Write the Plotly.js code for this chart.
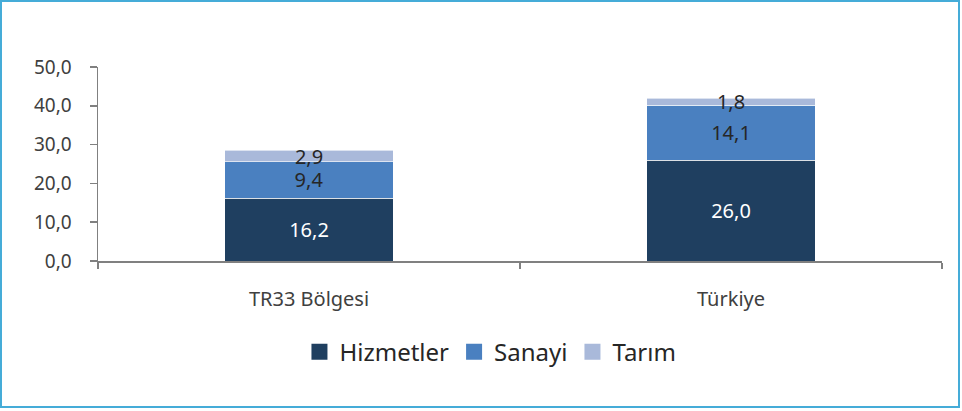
<!DOCTYPE html>
<html>
<head>
<meta charset="utf-8">
<script src="https://cdn.plot.ly/plotly-3.0.1.min.js"></script>
<style>
html,body{margin:0;padding:0;background:#fff;}
#wrap{position:relative;width:962px;height:411px;}
#plot{position:absolute;left:0;top:0;width:962px;height:411px;}
#frame{position:absolute;left:0;top:0;width:956px;height:404px;border:2px solid #45ACD8;pointer-events:none;}
</style>
</head>
<body>
<div id="wrap"><div id="plot"></div><div id="frame"></div></div>
<script>
const categories = ["TR33 Bölgesi", "Türkiye"];
const seriesNames = ["Hizmetler", "Sanayi", "Tarım"];
const hizmetler = [16.2, 26.0];
const sanayi = [9.4, 14.1];
const tarim = [2.9, 1.8];

const font = "'Noto Sans', 'Open Sans', sans-serif";
const colors = ['#1F3F60', '#4A80C0', '#A9B9DA'];
const txtColors = ['#ffffff', '#262626', '#262626'];
const values = [hizmetler, sanayi, tarim];

const data = [];
values.forEach((vals, i) => {
  data.push({
    type:'bar', name:seriesNames[i], x:categories, y:vals,
    marker:{color:colors[i], line:{color:'#ffffff', width:0.6}},
    texttemplate:'%{y:.1f}', textposition:'inside', insidetextanchor:'middle',
    constraintext:'none', cliponaxis:false,
    textfont:{family:font, size:20, color:txtColors[i]},
    hoverinfo:'none', showlegend:false
  });
});
// legend entries with larger square swatches
values.forEach((vals, i) => {
  data.push({
    type:'scatter', mode:'markers', name:seriesNames[i], x:[null], y:[null],
    marker:{symbol:'square', size:16, color:colors[i]}, hoverinfo:'none', showlegend:true
  });
});

const layout = {
  width:962, height:411,
  margin:{l:98, r:20, t:67, b:150},
  barmode:'stack', bargap:0.6,
  separators:',.',
  paper_bgcolor:'#ffffff', plot_bgcolor:'#ffffff',
  showlegend:true,
  font:{family:font, color:'#404040', size:19},
  xaxis:{
    type:'category', showline:true, linecolor:'#808080', linewidth:1.5,
    ticks:'outside', tickson:'boundaries', ticklen:6, tickcolor:'#808080', tickwidth:1.5,
    tickfont:{family:font, size:20, color:'#404040'}, showgrid:false, zeroline:false,
    ticklabelstandoff:19
  },
  yaxis:{
    range:[0,50], dtick:10, tickformat:'.1f', showline:true, linecolor:'#808080', linewidth:1.5,
    ticks:'outside', ticklen:7, tickcolor:'#808080', tickwidth:1.5,
    tickfont:{family:font, size:19, color:'#404040'}, showgrid:false, zeroline:false,
    ticklabelstandoff:14
  },
  legend:{
    orientation:'h', x:0.465, xanchor:'center', y:-0.47, yanchor:'middle',
    font:{family:font, size:24, color:'#262626'}, traceorder:'normal', itemwidth:30
  }
};
Plotly.newPlot('plot', data, layout, {displayModeBar:false, staticPlot:true});
</script>
</body>
</html>
